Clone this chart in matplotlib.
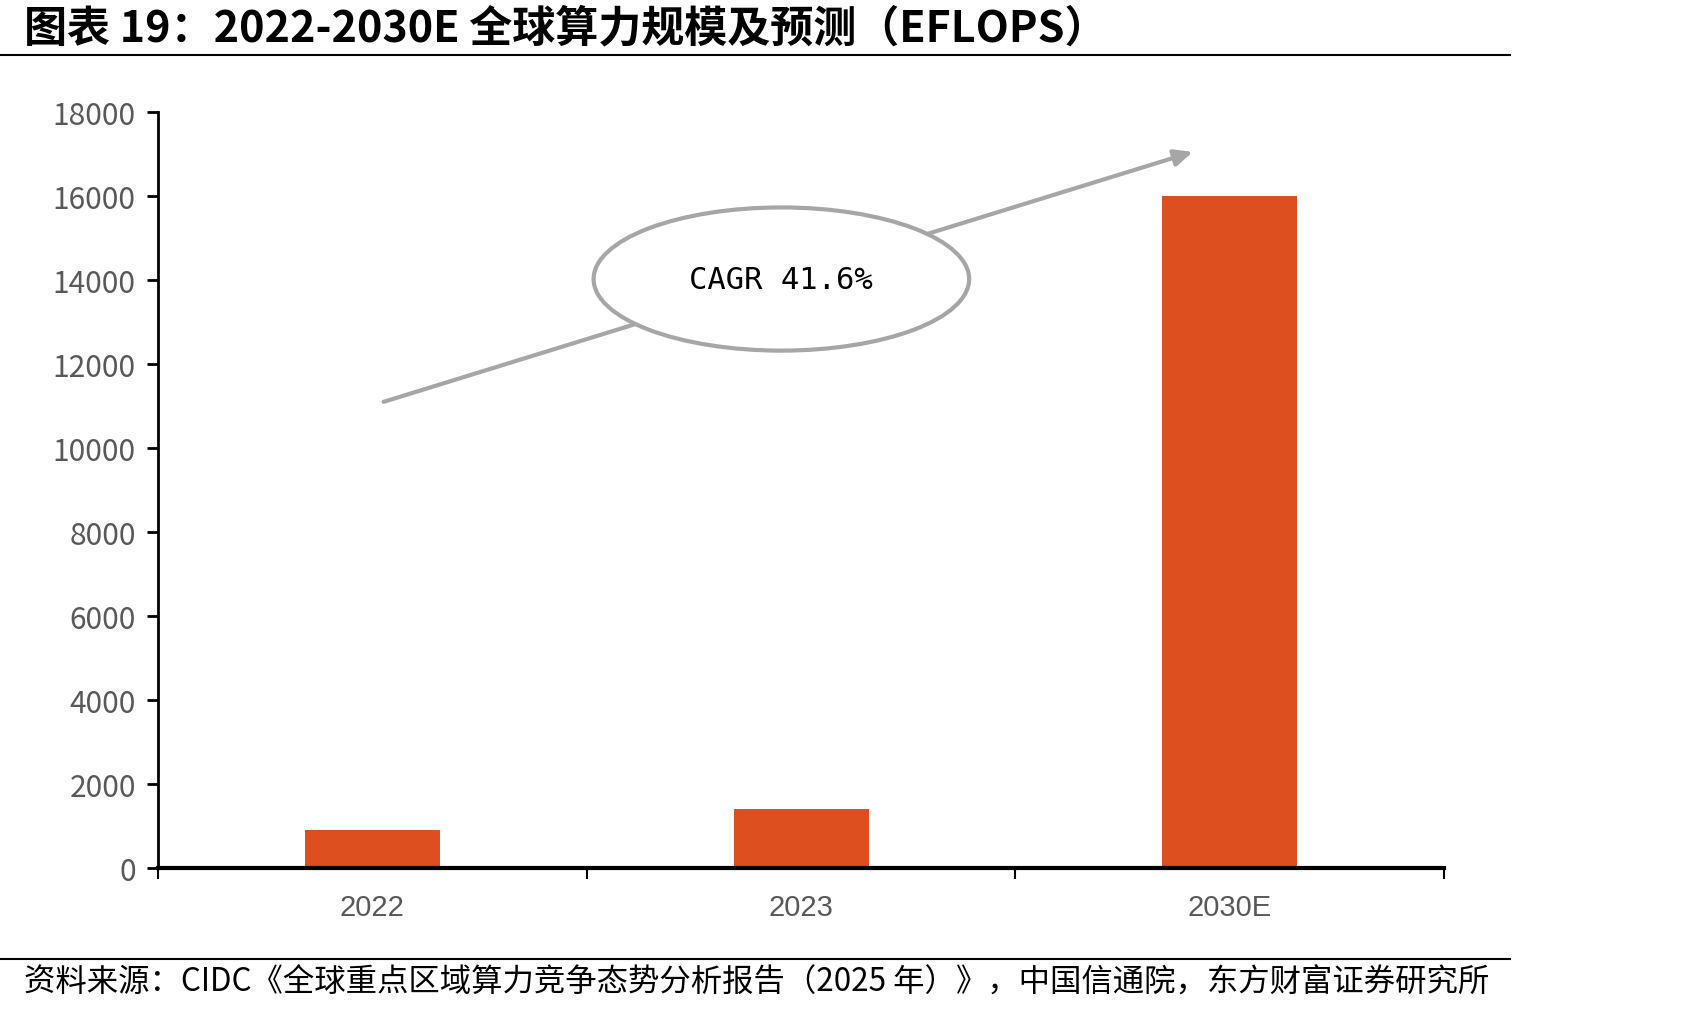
import matplotlib.pyplot as plt
from matplotlib.patches import Ellipse
import numpy as np

plt.rcParams['font.family'] = ['Noto Sans CJK SC', 'DejaVu Sans']

years = ['2022', '2023', '2030E']
eflops = [900, 1400, 16000]
y_ticks = [0, 2000, 4000, 6000, 8000, 10000, 12000, 14000, 16000, 18000]

title = '图表 19：2022-2030E 全球算力规模及预测（EFLOPS）'
source = '资料来源：CIDC《全球重点区域算力竞争态势分析报告（2025 年）》，中国信通院，东方财富证券研究所'
cagr = 'CAGR 41.6%'

bar_color = '#DD4F1F'
gray = '#A6A6A6'

fig = plt.figure(figsize=(17.01, 10.12), dpi=100)
ax = fig.add_axes([0.0929, 0.1413, 0.7561, 0.747])

x = np.arange(len(years))
ax.bar(x, eflops, width=0.315, color=bar_color, zorder=2)

ax.set_xlim(-0.5, 2.5)
ax.set_ylim(0, 18000)
ax.set_yticks(y_ticks)
ax.set_yticklabels([str(v) for v in y_ticks], fontsize=21.5, color='#595959')
ax.set_xticks(x)
ax.set_xticklabels(years, fontsize=21, color='#595959',
                   family=['Liberation Sans', 'DejaVu Sans'])
ax.set_xticks(np.arange(-0.5, 3, 1), minor=True)
ax.tick_params(axis='x', which='major', length=0, pad=18)
ax.tick_params(axis='x', which='minor', length=8, width=1.5, direction='out')
ax.tick_params(axis='y', length=8, width=2, direction='out', pad=8)

for s in ['top', 'right']:
    ax.spines[s].set_visible(False)
ax.spines['left'].set_linewidth(2)
ax.spines['bottom'].set_linewidth(3)

# trend arrow and CAGR bubble
ax.annotate('', xy=(1.92, 17070), xytext=(0.02, 11080),
            arrowprops=dict(arrowstyle='-|>,head_length=1.1,head_width=0.5',
                            color=gray, lw=3), zorder=3)
ax.add_patch(Ellipse((0.954, 14024), 0.876, 3409, facecolor='white',
                     edgecolor=gray, lw=3, zorder=4))
ax.text(0.954, 14024, cagr, ha='center', va='center', fontsize=22,
        family=['DejaVu Sans Mono'], color='black', zorder=5)

# title, source and rules
fig.text(0.014, 0.972, title, fontsize=31, fontweight='bold', va='center')
fig.text(0.014, 0.029, source, fontsize=22.6, va='center')
fig.add_artist(plt.Line2D([0, 0.888], [0.945, 0.945], color='black', lw=1.5))
fig.add_artist(plt.Line2D([0, 0.888], [0.051, 0.051], color='black', lw=1.5))

fig.savefig('out.png', dpi=100)
